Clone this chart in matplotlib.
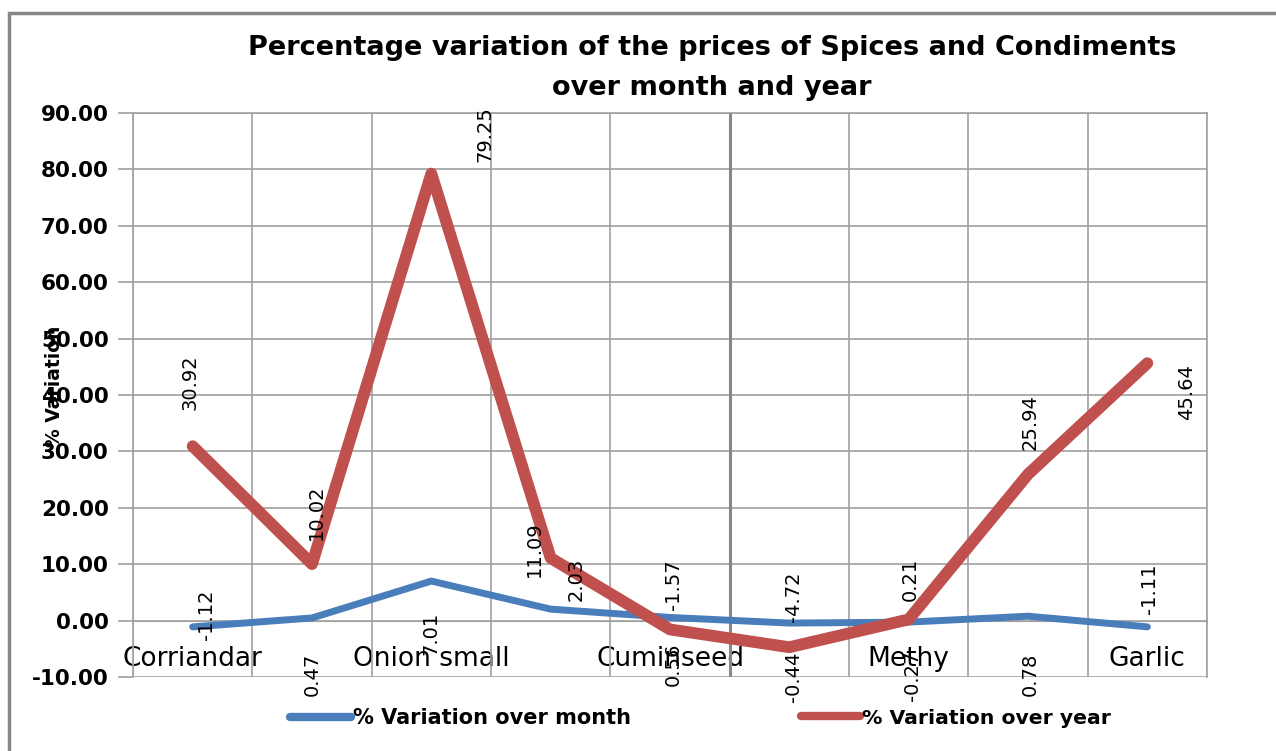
import matplotlib
matplotlib.use('Agg')
import matplotlib.pyplot as plt
from matplotlib.patches import Rectangle

# data
categories = ['Corriandar', '', 'Onion small', '', 'Cuminseed', '', 'Methy', '', 'Garlic']
over_month = [-1.12, 0.47, 7.01, 2.03, 0.56, -0.44, -0.27, 0.78, -1.11]
over_year = [30.92, 10.02, 79.25, 11.09, -1.57, -4.72, 0.21, 25.94, 45.64]
month_label = '% Variation over month'
year_label = '% Variation over year'
title = 'Percentage variation of the prices of Spices and Condiments\nover month and year'

# label offsets in pixels (dx, dy) - excel places them a bit randomly
month_off = [(14, 12), (0, -56), (0, -52), (25, 30), (3, -47), (4, -54), (4, -54), (2, -58), (2, 38)]
year_off = [(-3, 64), (4, 52), (54, 40), (-16, 9), (3, 45), (4, 50), (2, 40), (2, 52), (39, -29)]

blue = '#4a7ebb'
red = '#c0504d'
grid_c = '#a0a0a0'

fig = plt.figure(figsize=(12.76, 7.51), dpi=100)
ax = fig.add_axes([133/1276, 1-677/751, (1207-133)/1276, (677-113)/751])

x = list(range(len(categories)))
ax.plot(x, over_month, color=blue, lw=5, solid_capstyle='round', solid_joinstyle='round', zorder=3)
ax.plot(x, over_year, color=red, lw=8.5, solid_capstyle='round', solid_joinstyle='round', zorder=4)

for i in x:
    ax.annotate(f'{over_month[i]:.2f}', (i, over_month[i]), xytext=month_off[i],
                textcoords='offset pixels', rotation=90, ha='center', va='center',
                fontsize=14, zorder=5)
    ax.annotate(f'{over_year[i]:.2f}', (i, over_year[i]), xytext=year_off[i],
                textcoords='offset pixels', rotation=90, ha='center', va='center',
                fontsize=14, zorder=5)

# move the category axis up to 0 first (this resets tick settings)
ax.spines['bottom'].set_position(('data', 0))
ax.spines['bottom'].set_color(grid_c)

ax.set_xlim(-0.5, len(categories) - 0.5)
ax.set_ylim(-10, 90)
ax.set_yticks(range(-10, 91, 10))
ax.set_yticklabels([f'{v:.2f}' for v in range(-10, 91, 10)], fontsize=15.5, fontweight='bold')
ax.tick_params(axis='y', length=11, color=grid_c, width=1.2, pad=6.5)

ax.set_xticks(x)
ax.set_xticklabels(categories, fontsize=19)
ax.tick_params(axis='x', which='major', length=0, pad=18)

ax.set_xticks([i - 0.5 for i in range(len(categories) + 1)], minor=True)
ax.tick_params(axis='x', which='minor', length=0)
ax.grid(True, axis='y', color=grid_c, lw=1.2)
ax.grid(True, axis='x', which='minor', color=grid_c, lw=1.2)
ax.axvline(4.5, color='#888888', lw=2.2, zorder=1)
for s in ['left', 'right', 'top']:
    ax.spines[s].set_color(grid_c)
    ax.spines[s].set_linewidth(1.2)
ax.set_axisbelow(True)

ax.set_ylabel('% Variation', fontsize=13.5, fontweight='bold')
ax.yaxis.set_label_coords(-0.064, 0.515)

fig.text(712/1276, 1-68/751, title, ha='center', va='center', fontsize=19.5,
         fontweight='bold', linespacing=1.7)

leg_prop = {'weight': 'bold', 'size': 15}
leg1 = fig.legend([plt.Line2D([], [], color=blue, lw=6, solid_capstyle='round')], [month_label],
                  loc='center left', bbox_to_anchor=(282/1276, 1-718/751), frameon=False,
                  handlelength=2.9, handletextpad=0.1, prop=leg_prop, borderaxespad=0)
leg2 = fig.legend([plt.Line2D([], [], color=red, lw=6, solid_capstyle='round')], [year_label],
                  loc='center left', bbox_to_anchor=(793/1276, 1-718/751), frameon=False,
                  handlelength=2.9, handletextpad=0.1, prop={'weight': 'bold', 'size': 14.7},
                  borderaxespad=0)

fig.patches.append(Rectangle((9/1276, -0.1), 1.2, 1 - 13/751 + 0.1, transform=fig.transFigure,
                             fill=False, edgecolor='#888888', lw=2.5))

fig.savefig('out.png', dpi=100)
